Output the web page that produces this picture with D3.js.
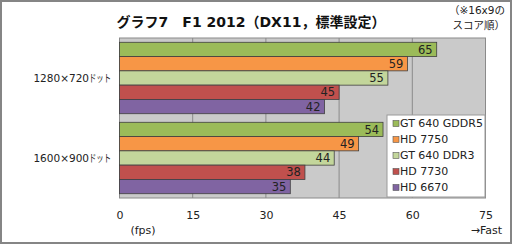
<!DOCTYPE html>
<html>
<head>
<meta charset="utf-8">
<script src="https://cdn.jsdelivr.net/npm/d3@7"></script>
<style>
    body { margin: 0; background: #fff; }
    svg text { font-family: "DejaVu Sans", "Noto Sans CJK JP", sans-serif; }
</style>
</head>
<body>
<svg id="chart" width="512" height="244"></svg>
<script>
const categories = ["1280×720", "1600×900"],
    categorySuffix = "ドット",
    seriesNames = ["GT 640 GDDR5", "HD 7750", "GT 640 DDR3", "HD 7730", "HD 6670"],
    seriesColors = ["#9bbb59", "#f79646", "#c3d69b", "#c0504d", "#8064a2"],
    values = [
        [65, 59, 55, 45, 42],
        [54, 49, 44, 38, 35],
    ],
    tickValues = [0, 15, 30, 45, 60, 75];

const width = 512,
    height = 244,
    plot = { left: 119.5, top: 38, right: 485.5, bottom: 198 };

const svg = d3.select("#chart");

// outer frame
svg.append("rect")
    .attr("x", 1).attr("y", 1)
    .attr("width", width - 2).attr("height", height - 2)
    .attr("fill", "#fff")
    .attr("stroke", "#858585")
    .attr("stroke-width", 2);

const x = d3.scaleLinear().domain([0, 75]).range([plot.left, plot.right]);
const y0 = d3.scaleBand().domain(categories).range([plot.top, plot.bottom]).paddingInner(0);
const y1 = d3.scaleBand().domain(seriesNames).range([0, y0.bandwidth()]).paddingOuter(0.3).paddingInner(0);

// plot background
svg.append("rect")
    .attr("x", plot.left).attr("y", plot.top)
    .attr("width", plot.right - plot.left).attr("height", plot.bottom - plot.top)
    .attr("fill", "#cacaca")
    .attr("stroke", "#8a8a8a");

// gridlines
svg.append("g")
    .selectAll("line")
    .data(tickValues.slice(1, -1))
    .join("line")
    .attr("x1", d => x(d)).attr("x2", d => x(d))
    .attr("y1", plot.top).attr("y2", plot.bottom)
    .attr("stroke", "#8a8a8a");

// bars
const groups = svg.append("g")
    .selectAll("g")
    .data(categories)
    .join("g")
    .attr("transform", d => `translate(0,${y0(d)})`);

groups.selectAll("rect")
    .data((d, i) => values[i].map((v, j) => ({ v, name: seriesNames[j], color: seriesColors[j] })))
    .join("rect")
    .attr("x", x(0))
    .attr("y", d => y1(d.name))
    .attr("width", d => x(d.v) - x(0))
    .attr("height", y1.bandwidth())
    .attr("fill", d => d.color)
    .attr("stroke", "#3f3f3f")
    .attr("stroke-width", 0.8);

groups.selectAll("text")
    .data((d, i) => values[i].map((v, j) => ({ v, name: seriesNames[j] })))
    .join("text")
    .attr("x", d => x(d.v) - 4)
    .attr("y", d => y1(d.name) + y1.bandwidth() / 2)
    .attr("dy", "0.36em")
    .attr("text-anchor", "end")
    .attr("font-size", 11.5)
    .attr("fill", "#222")
    .text(d => d.v);

// category labels: numbers + narrow katakana suffix
const catLabel = svg.append("g")
    .selectAll("g")
    .data(categories)
    .join("g")
    .attr("transform", d => `translate(0,${y0(d) + y0.bandwidth() / 2})`);
catLabel.append("text")
    .attr("x", 89)
    .attr("dy", "0.36em")
    .attr("text-anchor", "end")
    .attr("font-size", 10.5)
    .attr("fill", "#222")
    .text(d => d);
catLabel.append("text")
    .attr("x", 89)
    .attr("dy", "0.36em")
    .attr("font-size", 10.5)
    .attr("textLength", 22)
    .attr("lengthAdjust", "spacingAndGlyphs")
    .style("font-family", "'Noto Sans CJK JP', sans-serif")
    .attr("fill", "#222")
    .text(categorySuffix);

// x axis
const axis = svg.append("g")
    .attr("transform", `translate(0,${plot.bottom})`)
    .call(d3.axisBottom(x).tickValues(tickValues).tickSize(0).tickPadding(13));
axis.select(".domain").remove();
axis.selectAll("text")
    .attr("font-size", 11)
    .attr("fill", "#222")
    .style("font-family", "DejaVu Sans, sans-serif");

svg.append("text")
    .attr("x", 143).attr("y", 234)
    .attr("text-anchor", "middle")
    .attr("font-size", 11)
    .attr("fill", "#222")
    .text("(fps)");

svg.append("text")
    .attr("x", 502).attr("y", 234)
    .attr("text-anchor", "end")
    .attr("font-size", 11)
    .attr("fill", "#222")
    .text("→Fast");

// title
svg.append("text")
    .attr("x", 251).attr("y", 27)
    .attr("text-anchor", "middle")
    .attr("font-size", 14)
    .attr("font-weight", "bold")
    .attr("fill", "#111")
    .text("グラフ7　F1 2012（DX11，標準設定）");

svg.append("g")
    .selectAll("text")
    .data(["（※16x9の", "スコア順）"])
    .join("text")
    .attr("x", 505)
    .attr("y", (d, i) => 14 + i * 15)
    .attr("text-anchor", "end")
    .attr("font-size", 10.5)
    .attr("fill", "#222")
    .text(d => d);

// legend
const legend = svg.append("g").attr("transform", "translate(387,115)");
legend.append("rect")
    .attr("width", 98).attr("height", 82)
    .attr("fill", "#fff")
    .attr("stroke", "#9a9a9a");

const item = legend.selectAll("g.item")
    .data(seriesNames)
    .join("g")
    .attr("class", "item")
    .attr("transform", (d, i) => `translate(6,${8.5 + i * 16})`);

item.append("rect")
    .attr("x", 0).attr("y", -3)
    .attr("width", 6).attr("height", 6)
    .attr("fill", (d, i) => seriesColors[i])
    .attr("stroke", "#555")
    .attr("stroke-width", 0.6);

item.append("text")
    .attr("x", 7)
    .attr("dy", "0.36em")
    .attr("font-size", 11)
    .attr("fill", "#222")
    .text(d => d);
</script>
</body>
</html>
